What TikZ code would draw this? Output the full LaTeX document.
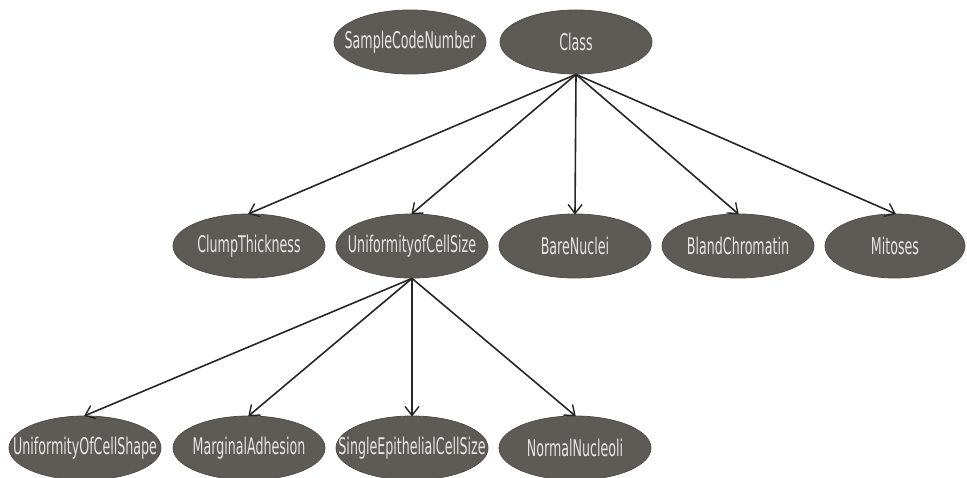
\documentclass[tikz,border=0pt]{standalone}
\usepackage{fontspec}
\newfontfamily\nodefont[FakeStretch=0.55]{DejaVu Sans}
\usetikzlibrary{shapes.geometric,arrows.meta}
\definecolor{nodegray}{RGB}{94,91,87}
\definecolor{textgray}{RGB}{228,228,228}
\tikzset{
  var/.style={ellipse, fill=nodegray, draw=nodegray!85!black, line width=0.8pt,
    minimum width=152pt, minimum height=64pt, inner sep=0pt},
  vartext/.style={text=textgray, inner sep=0pt, font=\nodefont\fontsize{23}{25}\selectfont},
  edge/.style={line width=1.6pt, draw=black!85,
    -{Straight Barb[length=9pt,width=14pt,line width=1.4pt]}, shorten >=-1pt}
}
\begin{document}
\begin{tikzpicture}[x=1pt,y=1pt]
\useasboundingbox (0,0) rectangle (967,-478);
\node[var, label={[vartext]center:SampleCodeNumber}] (scn) at (410,-42) {};
\node[var, label={[vartext]center:Class}] (class) at (576,-42) {};
\node[var, label={[vartext]center:ClumpThickness}] (clump) at (249,-246) {};
\node[var, label={[vartext]center:UniformityofCellSize}] (ucsize) at (412,-246) {};
\node[var, label={[vartext]center:BareNuclei}] (bare) at (575,-246) {};
\node[var, minimum width=140pt, label={[vartext]center:Mitoses}] (mit) at (895,-246) {};
\node[var, label={[vartext]center:BlandChromatin}] (bland) at (738,-246) {};
\node[var, label={[vartext]center:UniformityOfCellShape}] (ucshape) at (85,-448) {};
\node[var, label={[vartext]center:MarginalAdhesion}] (marg) at (249,-448) {};
\node[var, label={[vartext]center:SingleEpithelialCellSize}] (single) at (412,-448) {};
\node[var, label={[vartext]center:NormalNucleoli}] (normal) at (575,-448) {};
\foreach \t in {clump,ucsize,bare,bland,mit}
  \draw[edge] (class.south) -- (\t.north);
\foreach \t in {ucshape,marg,single,normal}
  \draw[edge] (ucsize.south) -- (\t.north);
\end{tikzpicture}
\end{document}
